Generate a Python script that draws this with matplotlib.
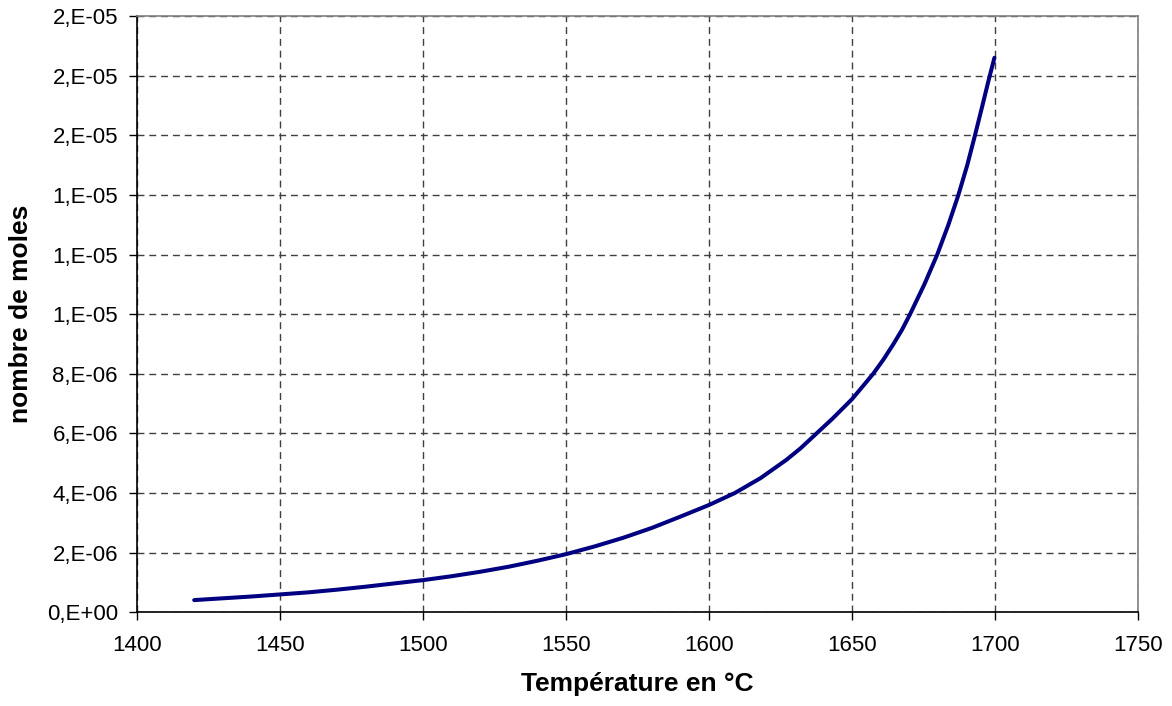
import matplotlib
matplotlib.use("Agg")
import matplotlib.pyplot as plt
from matplotlib.ticker import MultipleLocator, FuncFormatter

##DATA##
temperature = [1420, 1430, 1440, 1450, 1460, 1470, 1480, 1490, 1500, 1510,
               1520, 1530, 1540, 1550, 1560, 1570, 1580, 1590, 1600, 1609,
               1618, 1627, 1632, 1637.6, 1643, 1647.6, 1650, 1653.5, 1657.4,
               1661, 1664.5, 1667.5, 1670.3, 1675.3, 1679.8, 1683.7, 1687.2,
               1690.3, 1693, 1695.6, 1697.9, 1699.8]
moles = [0.41e-6, 0.47e-6, 0.53e-6, 0.60e-6, 0.67e-6, 0.76e-6, 0.86e-6,
         0.97e-6, 1.08e-6, 1.21e-6, 1.36e-6, 1.53e-6, 1.73e-6, 1.95e-6,
         2.21e-6, 2.50e-6, 2.83e-6, 3.21e-6, 3.60e-6, 4.00e-6, 4.50e-6,
         5.11e-6, 5.50e-6, 6.00e-6, 6.48e-6, 6.92e-6, 7.15e-6, 7.55e-6,
         8.00e-6, 8.48e-6, 9.00e-6, 9.48e-6, 10.0e-6, 11.0e-6, 12.0e-6,
         13.0e-6, 14.0e-6, 15.0e-6, 16.0e-6, 17.0e-6, 17.9e-6, 18.6e-6]

x_label = "Température en °C"
y_label = "nombre de moles"

plt.rcParams['font.family'] = ['Liberation Sans', 'DejaVu Sans']

fig = plt.figure(figsize=(11.72, 7.06), dpi=100)
ax = fig.add_axes([0.1169, 0.1327, 0.9710 - 0.1169, 0.9773 - 0.1327])

ax.plot(temperature, moles, color='#000080', linewidth=2.9,
        solid_capstyle='round', solid_joinstyle='round')

ax.set_xlim(1400, 1750)
ax.set_ylim(0, 2e-5)
ax.xaxis.set_major_locator(MultipleLocator(50))
ax.yaxis.set_major_locator(MultipleLocator(2e-6))
ax.yaxis.set_major_formatter(
    FuncFormatter(lambda v, pos: "{:.0E}".format(v).replace("E", ",E")))

ax.grid(True, color='#404040', linestyle=(0, (5, 3.5)), linewidth=1.0)
ax.set_axisbelow(True)

for side in ['top', 'right']:
    ax.spines[side].set_color('#808080')
    ax.spines[side].set_linewidth(1.2)
for side in ['left', 'bottom']:
    ax.spines[side].set_color('black')
    ax.spines[side].set_linewidth(1.2)

ax.tick_params(direction='out', length=5.8, width=1, labelsize=16)
ax.tick_params(axis='x', pad=10.8)
ax.tick_params(axis='y', pad=7.9)

ax.set_xlabel(x_label, fontsize=19, fontweight='bold')
ax.set_ylabel(y_label, fontsize=19, fontweight='bold')
ax.xaxis.set_label_coords(0.5, -0.100)
ax.yaxis.set_label_coords(-0.104, 0.5)

fig.savefig("out.png", dpi=100)
